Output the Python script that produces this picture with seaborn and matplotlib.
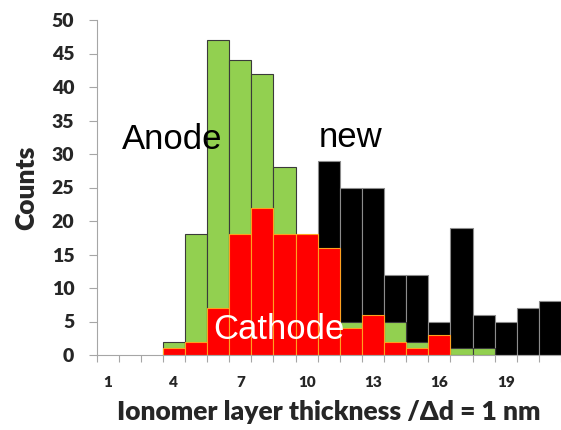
import numpy as np
import pandas as pd
import matplotlib
matplotlib.use("Agg")
import matplotlib.pyplot as plt
import seaborn as sns

# Ionomer layer thickness bins (1 nm steps) and counts per bin
thickness = list(range(1, 22))
new_counts = [0, 0, 0, 0, 0, 0, 0, 0, 0, 0, 29, 25, 25, 12, 12, 5, 19, 6, 5, 7, 8]
anode_counts = [0, 0, 0, 2, 18, 47, 44, 42, 28, 0, 0, 5, 0, 5, 2, 0, 1, 1, 0, 0, 0]
cathode_counts = [0, 0, 0, 1, 2, 7, 18, 22, 18, 18, 16, 4, 6, 2, 1, 3, 0, 0, 0, 0, 0]
labelled_bins = [1, 4, 7, 10, 13, 16, 19]
y_ticks = [0, 5, 10, 15, 20, 25, 30, 35, 40, 45, 50]

sns.set_style("white")
plt.rcParams["font.family"] = ["Lato", "DejaVu Sans"]

fig = plt.figure(figsize=(5.61, 4.30), dpi=100)
ax = fig.add_axes([96.5 / 561, 75 / 430, (561 - 96.5) / 561, 335 / 430])

order = [str(t) for t in thickness]


def draw_layer(counts, face, edge):
    df = pd.DataFrame({"d": order, "n": counts})
    df = df[df["n"] > 0]
    sns.barplot(data=df, x="d", y="n", order=order, color=face, width=1.0,
                edgecolor=edge, linewidth=0.8, saturation=1, ax=ax)


# back to front: new sample, anode, cathode
draw_layer(new_counts, "#000000", "#8c8c8c")
draw_layer(anode_counts, "#92d050", "#3a3a3a")
draw_layer(cathode_counts, "#ff0000", "#ffa020")

ax.set_xlim(-0.5, -0.5 + 464.5 / 22.5)
ax.set_ylim(0, 50)

# tick labels centred on bins, tick marks on bin boundaries
ax.set_xticks([order.index(str(b)) for b in labelled_bins])
ax.set_xticklabels([str(b) for b in labelled_bins], fontsize=11, fontweight="heavy")
ax.set_xticks(np.arange(-0.5, len(order), 1.0), minor=True)
ax.tick_params(axis="x", which="major", length=0, pad=15)
ax.tick_params(axis="x", which="minor", length=5, width=0.8, color="#a6a6a6",
               direction="out", bottom=True)

ax.set_yticks(y_ticks)
ax.set_yticklabels([str(v) for v in y_ticks], fontsize=14, fontweight="heavy")
ax.tick_params(axis="y", which="major", length=6, width=0.8, color="#a6a6a6",
               direction="out", left=True, pad=10)

for side in ["top", "right"]:
    ax.spines[side].set_visible(False)
for side in ["left", "bottom"]:
    ax.spines[side].set_color("#a6a6a6")
    ax.spines[side].set_linewidth(0.8)

ax.set_xlabel("Ionomer layer thickness /Δd = 1 nm", fontsize=19, fontweight="heavy", labelpad=8)
ax.set_ylabel("Counts", fontsize=19, fontweight="heavy", labelpad=10)

label_font = ["Liberation Sans", "DejaVu Sans"]
ax.text(0.66, 30.8, "Anode", fontsize=25, family=label_font, color="black", va="baseline")
ax.text(9.53, 31.0, "new", fontsize=25, family=label_font, color="black", va="baseline")
ax.text(4.8, 2.4, "Cathode", fontsize=25, family=label_font, color="white", va="baseline")

fig.savefig("out.png", dpi=100)
